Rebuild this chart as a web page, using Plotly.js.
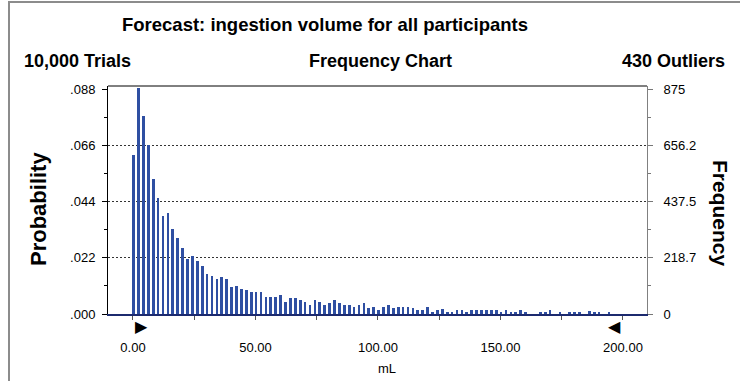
<!DOCTYPE html>
<html>
<head>
<meta charset="utf-8">
<script src="https://cdn.plot.ly/plotly-3.0.1.min.js"></script>
<style>
  html, body { margin: 0; padding: 0; background: #fff; }
  #wrap { position: relative; width: 740px; height: 381px; overflow: hidden; }
  #chart { width: 740px; height: 381px; }
  #frame { position: absolute; left: 8px; top: 1px; width: 900px; height: 600px;
           border-left: 2px solid #8c8c8c; border-top: 2px solid #8c8c8c; pointer-events: none; }
</style>
</head>
<body>
<div id="wrap"><div id="chart"></div><div id="frame"></div></div>
<script>
// ---- data ----
const trials = 10000;
const outliers = 430;
const binStart = Array.from({length: 100}, (_, i) => i * 2);   // mL, bins of width 2
const frequency = [
  619, 880, 773, 658, 528, 452, 382, 395, 330, 298, 259, 216, 228, 208, 188, 157, 150, 137, 144, 137,
  107, 111, 98, 92, 85, 85, 85, 68, 68, 68, 73, 48, 61, 61, 54, 48, 34, 54, 48, 34,
  41, 54, 41, 35, 35, 28, 35, 41, 22, 28, 15, 28, 35, 22, 28, 28, 28, 22, 15, 15,
  28, 8, 14, 20, 9, 9, 14, 14, 9, 14, 14, 14, 14, 14, 14, 9, 14, 9, 9, 14,
  9, 0, 0, 6, 6, 14, 0, 6, 0, 6, 6, 6, 0, 12, 6, 6, 0, 6, 0, 0
];
const certaintyRange = [0, 200];
const xTickVals = [0, 50, 100, 150, 200];
const xTickText = ['0.00', '50.00', '100.00', '150.00', '200.00'];
const freqTickVals = [0, 218.75, 437.5, 656.25, 875];
const freqTickText = ['0', '218.7', '437.5', '656.2', '875'];
const probTickText = ['.000', '.022', '.044', '.066', '.088'];
const gridVals = [218.75, 437.5, 656.25];

const FONT = '"Liberation Sans", Arial, sans-serif';
const yTop = 889.4;

const bars = {
  type: 'bar', x: binStart, y: frequency, yaxis: 'y',
  width: 1.1, offset: -0.3,
  marker: { color: '#2f4fa2', line: { width: 0 } },
  hoverinfo: 'skip', showlegend: false
};
// invisible traces so the probability & grid axes are drawn
const probTrace = {
  type: 'scatter', mode: 'markers', x: [binStart[0]], y: [frequency[0] / trials], yaxis: 'y2',
  marker: { opacity: 0 }, hoverinfo: 'skip', showlegend: false
};
const gridTrace = {
  type: 'scatter', mode: 'markers', x: [binStart[0]], y: [frequency[0]], yaxis: 'y3',
  marker: { opacity: 0 }, hoverinfo: 'skip', showlegend: false
};

const layout = {
  width: 740, height: 381,
  margin: { l: 108, r: 93, t: 86, b: 67, pad: 0 },
  paper_bgcolor: '#ffffff', plot_bgcolor: '#ffffff',
  font: { family: FONT, size: 13, color: '#000' },
  bargap: 0,
  title: {
    text: '<b>Forecast: ingestion volume for all participants</b>',
    font: { family: FONT, size: 18.5, color: '#000' },
    x: 325 / 740, xanchor: 'center', xref: 'container',
    y: 1 - 25 / 381, yanchor: 'middle', yref: 'container'
  },
  xaxis: {
    range: [-10.2, 209.8],
    tickmode: 'array', tickvals: xTickVals, ticktext: xTickText,
    ticks: 'outside', ticklen: 4, tickwidth: 1, tickcolor: '#555',
    minor: { dtick: 25, tick0: 0, ticks: 'outside', ticklen: 4, tickcolor: '#555' },
    ticklabelstandoff: 16,
    showline: true, linecolor: '#1c2a6e', linewidth: 2,
    showgrid: false, zeroline: false,
    tickfont: { family: FONT, size: 13, color: '#000' }
  },
  yaxis: {
    side: 'right', range: [0, yTop],
    tickmode: 'array', tickvals: freqTickVals, ticktext: freqTickText,
    ticks: 'outside', ticklen: 5, tickcolor: '#777',
    minor: { dtick: 109.375, tick0: 0, ticks: 'outside', ticklen: 3, tickcolor: '#777' },
    ticklabelstandoff: 8,
    showline: true, linecolor: '#808080', linewidth: 1,
    showgrid: false, zeroline: false,
    tickfont: { family: FONT, size: 13, color: '#000' }
  },
  yaxis2: {
    overlaying: 'y', side: 'left', range: [0, yTop / trials],
    tickmode: 'array', tickvals: freqTickVals.map(v => v / trials), ticktext: probTickText,
    ticks: 'outside', ticklen: 5, tickcolor: '#000',
    minor: { dtick: 109.375 / trials, tick0: 0, ticks: 'outside', ticklen: 3, tickcolor: '#000' },
    ticklabelstandoff: 4,
    showline: true, linecolor: '#000', linewidth: 1,
    showgrid: false, zeroline: false,
    tickfont: { family: FONT, size: 13, color: '#000' }
  },
  yaxis3: {
    overlaying: 'y', side: 'right', range: [0, yTop],
    tickmode: 'array', tickvals: gridVals, showticklabels: false, ticks: '',
    showgrid: true, gridcolor: '#333', gridwidth: 1, griddash: '2px,2px',
    showline: false, zeroline: false
  },
  shapes: [
    { type: 'line', xref: 'paper', yref: 'paper', x0: 0, x1: 1, y0: 1, y1: 1,
      line: { color: '#000', width: 1 } }
  ],
  annotations: [
    { text: '<b>' + trials.toLocaleString('en-US') + ' Trials</b>', xref: 'paper', yref: 'paper',
      x: (22 - 108) / 539, xanchor: 'left', y: (314 - 61) / 228, yanchor: 'middle',
      showarrow: false, font: { family: FONT, size: 18, color: '#000' } },
    { text: '<b>Frequency Chart</b>', xref: 'paper', yref: 'paper',
      x: (381 - 108) / 539, xanchor: 'center', y: (314 - 61) / 228, yanchor: 'middle',
      showarrow: false, font: { family: FONT, size: 18, color: '#000' } },
    { text: '<b>' + outliers + ' Outliers</b>', xref: 'paper', yref: 'paper',
      x: (727 - 108) / 539, xanchor: 'right', y: (314 - 61) / 228, yanchor: 'middle',
      showarrow: false, font: { family: FONT, size: 18, color: '#000' } },
    { text: '<b>Probability</b>', xref: 'paper', yref: 'paper', textangle: -90,
      x: (38 - 108) / 539, xanchor: 'center', y: (314 - 209) / 228, yanchor: 'middle',
      showarrow: false, font: { family: FONT, size: 22, color: '#000' } },
    { text: '<b>Frequency</b>', xref: 'paper', yref: 'paper', textangle: 90,
      x: (721 - 108) / 539, xanchor: 'center', y: (314 - 213) / 228, yanchor: 'middle',
      showarrow: false, font: { family: FONT, size: 21, color: '#000' } },
    { text: 'mL', xref: 'paper', yref: 'paper',
      x: (387 - 108) / 539, xanchor: 'center', y: (314 - 368) / 228, yanchor: 'middle',
      showarrow: false, font: { family: FONT, size: 13, color: '#000' } },
    { text: '\u25B6', xref: 'x', yref: 'paper', x: certaintyRange[0], xanchor: 'left',
      y: 0, yanchor: 'top', yshift: -1, showarrow: false,
      font: { family: '"DejaVu Sans"', size: 16, color: '#000' } },
    { text: '\u25C0', xref: 'x', yref: 'paper', x: certaintyRange[1], xanchor: 'right',
      y: 0, yanchor: 'top', yshift: -1, showarrow: false,
      font: { family: '"DejaVu Sans"', size: 16, color: '#000' } }
  ]
};

Plotly.newPlot('chart', [bars, probTrace, gridTrace], layout, { staticPlot: true, displayModeBar: false });
</script>
</body>
</html>
